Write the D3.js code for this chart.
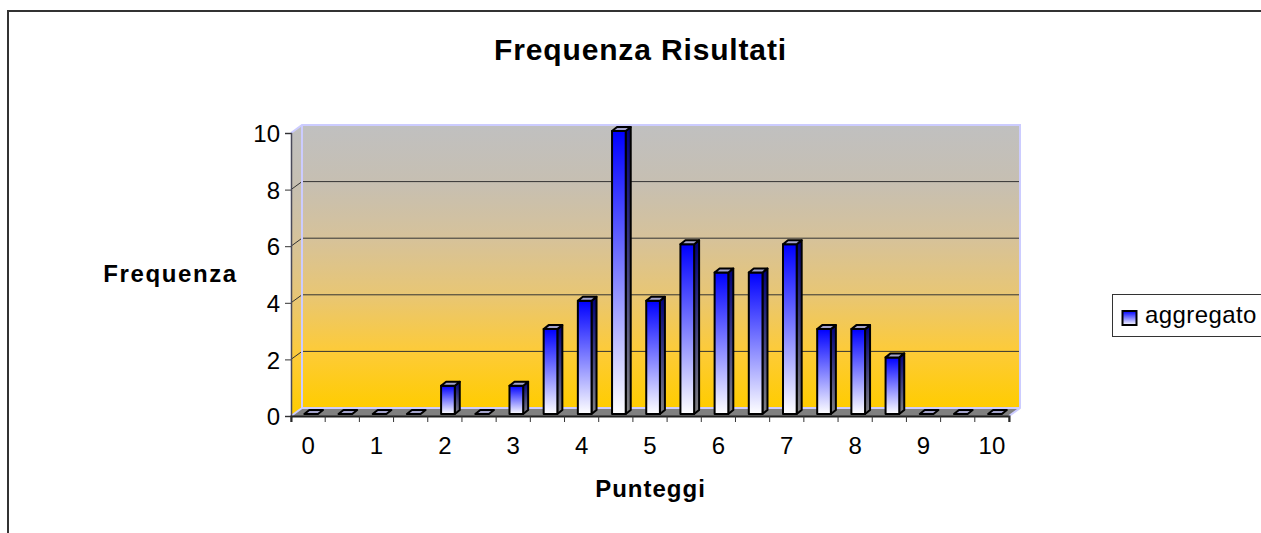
<!DOCTYPE html>
<meta charset="utf-8">
<style>
	body { margin: 0; background: #fff; }
	svg { display: block; }
	text { font-family: "Liberation Sans", Arial, sans-serif; fill: #000; }
</style>
<script src="https://d3js.org/d3.v7.min.js"></script>

<body>
	<div id="chart"></div>

	<script>

		var categories = ["0", "0.5", "1", "1.5", "2", "2.5", "3", "3.5", "4", "4.5", "5", "5.5", "6", "6.5", "7", "7.5", "8", "8.5", "9", "9.5", "10"];
		var values = [0, 0, 0, 0, 1, 0, 1, 3, 4, 10, 4, 6, 5, 5, 6, 3, 3, 2, 0, 0, 0];
		var yTicks = [0, 2, 4, 6, 8, 10];
		var seriesName = "aggregato";

		var width = 1261,
		    height = 533;

		// front plane of the 3d box, the back wall sits at depthX/depthY from it
		var left = 291, right = 1009, bottom = 416, top_ = 133;
		var depthX = 11, depthY = 8;
		var barDepthX = 5, barDepthY = 4;

		var x = d3.scaleBand().domain(categories).range([left, right]);
		var y = d3.scaleLinear().domain([0, 10]).range([bottom, top_]);

		var svg = d3.select("#chart").append("svg")
			.attr("width", width)
			.attr("height", height);

		var defs = svg.append("defs");

		function gradient(id, colors) {
			var g = defs.append("linearGradient").attr("id", id)
				.attr("x1", 0).attr("y1", 0).attr("x2", 0).attr("y2", 1);
			colors.forEach(function(c, i) {
				g.append("stop")
					.attr("offset", (100 * i / (colors.length - 1)) + "%")
					.attr("stop-color", c);
			});
		}
		gradient("wall", ["#c0c0c0", "#c6bfb2", "#d6c29a", "#e8c674", "#fdcb38", "#ffcc00"]);
		gradient("barFront", ["#0000ff", "#ffffff"]);
		gradient("barSide", ["#00007a", "#808080"]);

		function poly(points) {
			return "M" + points.map(function(p) { return p.join(","); }).join("L") + "Z";
		}

		// outer frame, right and bottom run off the picture
		svg.append("path")
			.attr("d", "M8,533V11H1261")
			.attr("fill", "none")
			.attr("stroke", "#333")
			.attr("stroke-width", 2);

		svg.append("text")
			.attr("x", 640.5).attr("y", 60)
			.attr("text-anchor", "middle")
			.attr("font-size", 30)
			.attr("font-weight", "bold")
			.attr("letter-spacing", 0.85)
			.text("Frequenza Risultati");

		// walls and floor
		var backTop = top_ - depthY, backBottom = bottom - depthY;
		var backLeft = left + depthX, backRight = right + depthX;

		svg.append("path")
			.attr("d", poly([[left, top_], [backLeft, backTop], [backLeft, backBottom], [left, bottom]]))
			.attr("fill", "url(#wall)");
		svg.append("rect")
			.attr("x", backLeft).attr("y", backTop)
			.attr("width", backRight - backLeft).attr("height", backBottom - backTop)
			.attr("fill", "url(#wall)");
		svg.append("path")
			.attr("d", poly([[left, bottom], [backLeft, backBottom], [backRight, backBottom], [right, bottom]]))
			.attr("fill", "#808080");

		// gridlines, the 0 and 10 lines are covered by the wall edges
		svg.selectAll(".grid")
			.data(yTicks.filter(function(d) { return d > 0 && d < 10; }))
			.enter().append("path")
				.attr("class", "grid")
				.attr("d", function(d) {
					return "M" + left + "," + y(d) + "L" + backLeft + "," + (y(d) - depthY) + "H" + backRight;
				})
				.attr("fill", "none")
				.attr("stroke", "#333")
				.attr("stroke-width", 1);

		// wall edges
		svg.append("path")
			.attr("d", "M" + left + "," + top_ + "L" + backLeft + "," + backTop + "H" + backRight + "V" + backBottom + "L" + right + "," + bottom
				+ "M" + backLeft + "," + backTop + "V" + backBottom + "H" + backRight + "M" + backLeft + "," + backBottom + "L" + left + "," + bottom)
			.attr("fill", "none")
			.attr("stroke", "#ccccff")
			.attr("stroke-width", 2);

		// bars
		var barOffset = x.bandwidth() * 0.39,
		    barWidth = x.bandwidth() * 0.4,
		    barBase = y(0) - 2;
		function barTop(d) { return barBase - (y(0) - y(d)); }

		var bars = svg.selectAll(".bar")
			.data(categories.map(function(c, i) { return { cat: c, value: values[i] }; }))
			.enter().append("g")
				.attr("class", "bar")
				.attr("stroke", "#000")
				.attr("stroke-width", 2)
				.attr("stroke-linejoin", "round");

		bars.filter(function(d) { return d.value > 0; }).append("path")
			.attr("d", function(d) {
				var x1 = x(d.cat) + barOffset + barWidth;
				return poly([[x1, barTop(d.value)], [x1 + barDepthX, barTop(d.value) - barDepthY], [x1 + barDepthX, barBase - barDepthY], [x1, barBase]]);
			})
			.attr("fill", "url(#barSide)");

		bars.filter(function(d) { return d.value > 0; }).append("rect")
			.attr("x", function(d) { return x(d.cat) + barOffset; })
			.attr("y", function(d) { return barTop(d.value); })
			.attr("width", barWidth)
			.attr("height", function(d) { return barBase - barTop(d.value); })
			.attr("fill", "url(#barFront)");

		bars.append("path")
			.attr("d", function(d) {
				var x0 = x(d.cat) + barOffset, x1 = x0 + barWidth, t = barTop(d.value);
				return poly([[x0, t], [x0 + barDepthX, t - barDepthY], [x1 + barDepthX, t - barDepthY], [x1, t]]);
			})
			.attr("fill", "#a3a3cc");

		// axes
		var yAxis = d3.axisLeft(y).tickValues(yTicks).tickSize(6).tickPadding(5);
		var gy = svg.append("g")
			.attr("transform", "translate(" + left + ",0)")
			.call(yAxis);
		gy.selectAll("text").attr("font-size", 24).attr("dy", "0.36em").style("font-family", '"Liberation Sans", Arial, sans-serif');
		gy.selectAll("line").attr("stroke", "#333");
		gy.select(".domain").attr("stroke", "#4a4a5a").attr("stroke-width", 1.5);

		var xAxis = d3.axisBottom(x)
			.tickSizeOuter(0)
			.tickSize(6)
			.tickPadding(15)
			.tickFormat(function(d) { return +d % 1 === 0 ? d : ""; });
		var gx = svg.append("g")
			.attr("transform", "translate(0," + bottom + ")")
			.call(xAxis);
		gx.selectAll("text").attr("font-size", 24).style("font-family", '"Liberation Sans", Arial, sans-serif');
		// ticks sit between the categories, not on them
		gx.selectAll("line").attr("stroke", "#333").attr("x1", -x.bandwidth() / 2).attr("x2", -x.bandwidth() / 2);
		gx.append("line")
			.attr("x1", right).attr("x2", right).attr("y1", 0).attr("y2", 6)
			.attr("stroke", "#333");
		gx.select(".domain").attr("stroke", "#222").attr("stroke-width", 2);

		svg.append("text")
			.attr("x", 170.5).attr("y", 282)
			.attr("text-anchor", "middle")
			.attr("font-size", 24)
			.attr("font-weight", "bold")
			.attr("letter-spacing", 1.6)
			.text("Frequenza");

		svg.append("text")
			.attr("x", 650.5).attr("y", 497)
			.attr("text-anchor", "middle")
			.attr("font-size", 24)
			.attr("font-weight", "bold")
			.attr("letter-spacing", 1)
			.text("Punteggi");

		// legend, cut off by the right edge
		var legend = svg.append("g");
		legend.append("rect")
			.attr("x", 1112.5).attr("y", 294.5)
			.attr("width", 160).attr("height", 42)
			.attr("fill", "#fff")
			.attr("stroke", "#333")
			.attr("stroke-width", 1);
		legend.append("rect")
			.attr("x", 1122.5).attr("y", 311)
			.attr("width", 14).attr("height", 14)
			.attr("fill", "url(#barFront)")
			.attr("stroke", "#000")
			.attr("stroke-width", 2);
		legend.append("text")
			.attr("x", 1145).attr("y", 323)
			.attr("font-size", 24)
			.attr("letter-spacing", 0.4)
			.text(seriesName);

	</script>

</body>
